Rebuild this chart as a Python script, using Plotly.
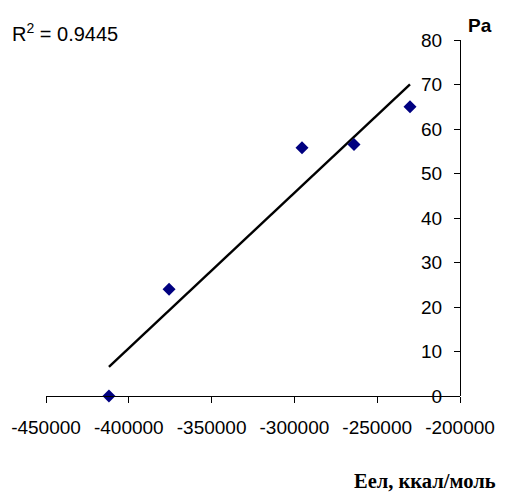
import numpy as np
import plotly.graph_objects as go

# Data
eel = [-412000, -375700, -295400, -264000, -230200]
pa = [0.0, 24.0, 55.8, 56.5, 65.0]

x_tickvals = [-450000, -400000, -350000, -300000, -250000, -200000]
x_ticktext = ["-450000", "-400000", "-350000", "-300000", "-250000", "-200000"]
y_tickvals = [0, 10, 20, 30, 40, 50, 60, 70, 80]
r2_text = "R<sup>2</sup> = 0.9445"

# linear trendline
k, b = np.polyfit(eel, pa, 1)
tx = [min(eel), max(eel)]
ty = [k * v + b for v in tx]

fig = go.Figure()
fig.add_trace(go.Scatter(x=tx, y=ty, mode="lines",
                         line=dict(color="black", width=2.4), showlegend=False))
fig.add_trace(go.Scatter(x=eel, y=pa, mode="markers",
                         marker=dict(symbol="diamond", color="#000080", size=10,
                                     line=dict(width=0)),
                         showlegend=False, cliponaxis=False))

font = dict(family="Liberation Sans, Arial, sans-serif", size=19, color="black")

fig.update_layout(
    width=497, height=486,
    margin=dict(l=38, r=45, t=32, b=98, autoexpand=False),
    paper_bgcolor="white", plot_bgcolor="white",
    font=font,
    xaxis=dict(range=[-450000, -200000], tickvals=x_tickvals, ticktext=x_ticktext,
               showgrid=False, zeroline=False, showline=True, linecolor="black",
               linewidth=1, ticks="outside", ticklen=6, tickcolor="black",
               tickfont=font, automargin=False, ticklabelstandoff=8),
    yaxis=dict(range=[0, 80], tickvals=y_tickvals, side="left",
               anchor="free", position=1.0,
               showgrid=False, zeroline=False, showline=True, linecolor="black",
               linewidth=1, ticks="outside", ticklen=6, tickcolor="black",
               tickfont=font, automargin=False, ticklabelstandoff=8),
    annotations=[
        dict(text=r2_text, xref="paper", yref="paper", x=-0.087, y=1.022,
             xanchor="left", yanchor="middle", showarrow=False,
             font=dict(family="Liberation Sans, Arial, sans-serif", size=20)),
        dict(text="<b>Pa</b>", xref="paper", yref="paper", x=1.0, y=1.042,
             xanchor="left", yanchor="middle", showarrow=False, xshift=6,
             font=dict(family="Liberation Sans, Arial, sans-serif", size=19)),
        dict(text="<b>Еел, ккал/моль</b>", xref="paper", yref="paper", x=1.092, y=-0.239,
             xanchor="right", yanchor="middle", showarrow=False,
             font=dict(family="Liberation Serif, DejaVu Serif, serif", size=20.5)),
    ],
)

fig.write_html("out.html")
